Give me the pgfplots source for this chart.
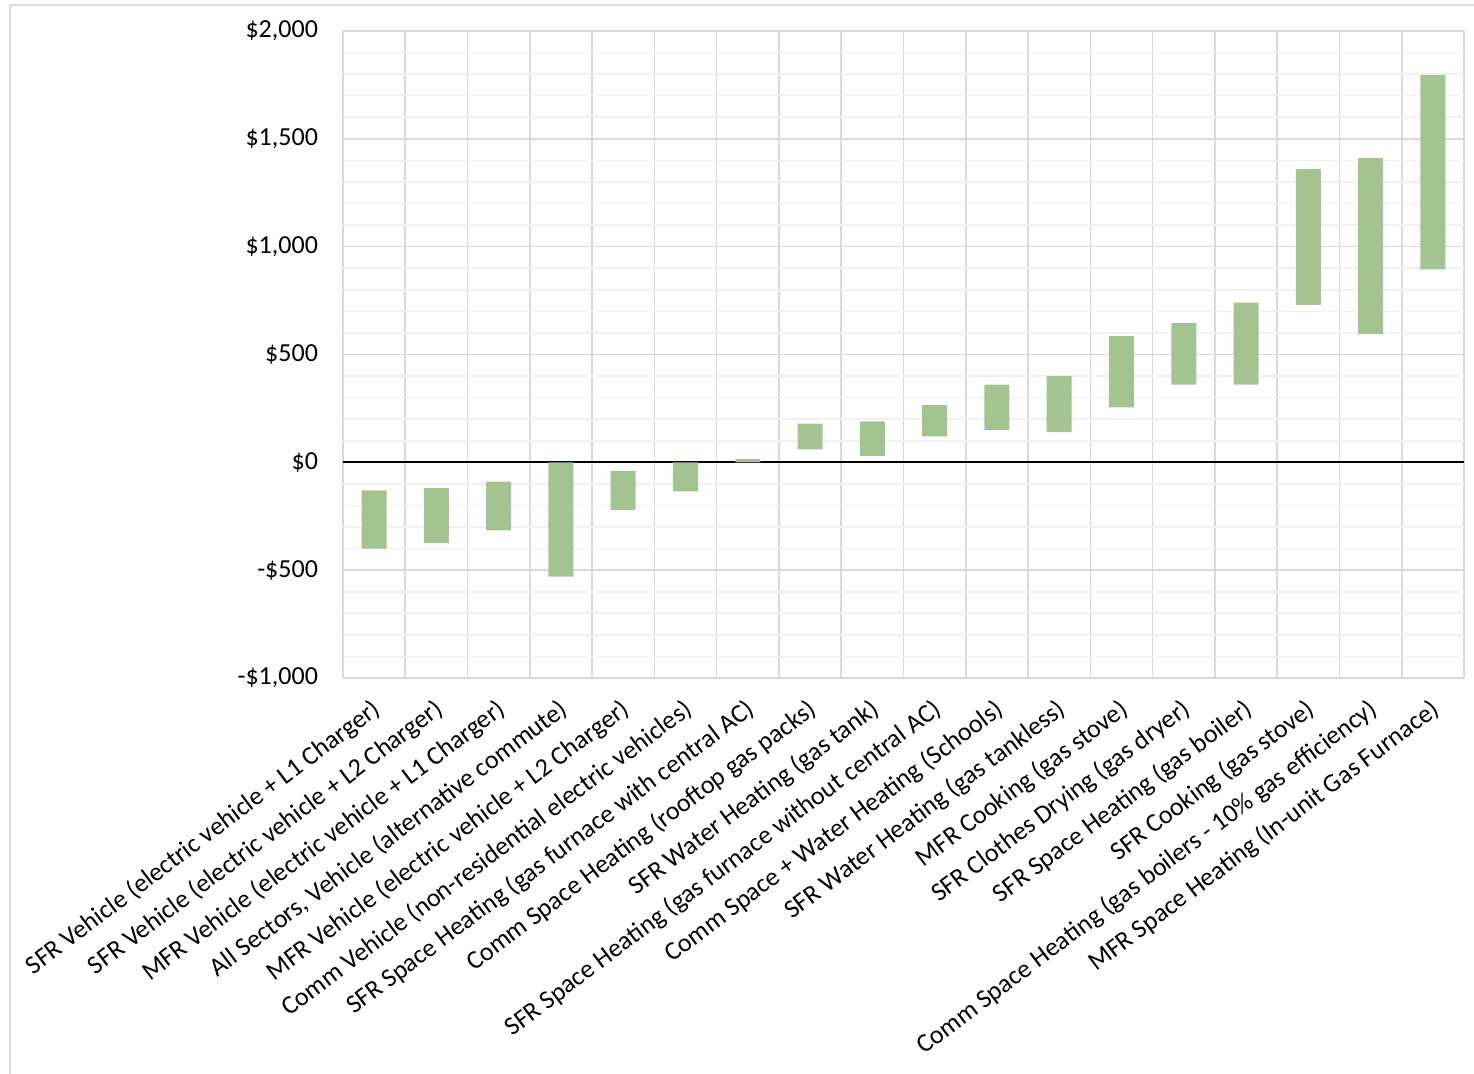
\documentclass[border=0pt]{standalone}
\usepackage{pgfplots}
\pgfplotsset{compat=1.18}
\usepackage{fontspec}
\setmainfont{Carlito}
\definecolor{bargreen}{HTML}{A3C490}
\definecolor{gridmajor}{HTML}{D9D9D9}
\definecolor{gridminor}{HTML}{F0F0F0}
\begin{document}
\fontsize{13pt}{15.6pt}\selectfont
\begin{tikzpicture}
\useasboundingbox (0,0) rectangle (737pt,537pt);
\draw[gridmajor, line width=0.8pt] (5pt,-5pt) -- (5pt,534.5pt) -- (740pt,534.5pt);
\begin{axis}[
  at={(171.5pt,198pt)}, anchor=south west,
  scale only axis, width=560.5pt, height=323.5pt,
  ybar stacked, stack negative=on previous, bar width=12.5pt,
  xmin=0.5, xmax=18.5, ymin=-1000, ymax=2000,
  axis line style={draw=none},
  xtick={1,...,18},
  minor xtick={0.5,1.5,...,18.5},
  ytick={-1000,-500,0,500,1000,1500,2000},
  minor y tick num=4,
  major tick length=0pt, minor tick length=0pt,
  xmajorgrids=false, xminorgrids=true, ymajorgrids=true, yminorgrids=true,
  minor x grid style={gridmajor, line width=0.8pt},
  major y grid style={gridmajor, line width=0.8pt},
  minor y grid style={gridminor, line width=0.8pt},
  extra y ticks={0}, extra y tick labels={},
  extra y tick style={major y grid style={black, line width=1pt}, ymajorgrids=true},
  yticklabels={{-\$1,000}, {-\$500}, {\$0}, {\$500}, {\$1,000}, {\$1,500}, {\$2,000}},
  yticklabel style={font=\fontsize{13pt}{15.6pt}\selectfont, anchor=east, xshift=-8pt},
  xticklabel style={font=\fontsize{13pt}{15.6pt}\selectfont, xshift=-1.5pt, yshift=-8pt, rotate=37, anchor=north east, inner sep=1pt},
  xticklabels={
    SFR Vehicle (electric vehicle + L1 Charger),
    SFR Vehicle (electric vehicle + L2 Charger),
    MFR Vehicle (electric vehicle + L1 Charger),
    {All Sectors, Vehicle (alternative commute)},
    MFR Vehicle (electric vehicle + L2 Charger),
    Comm Vehicle (non-residential electric vehicles),
    SFR Space Heating (gas furnace with central AC),
    Comm Space Heating (rooftop gas packs),
    SFR Water Heating (gas tank),
    SFR Space Heating (gas furnace without central AC),
    Comm Space + Water Heating (Schools),
    SFR Water Heating (gas tankless),
    MFR Cooking (gas stove),
    SFR Clothes Drying (gas dryer),
    SFR Space Heating (gas boiler),
    SFR Cooking (gas stove),
    Comm Space Heating (gas boilers - 10\% gas efficiency),
    MFR Space Heating (In-unit Gas Furnace)
  },
]
% invisible base (lower end of each range)
\addplot[draw=none, fill=none, forget plot] coordinates {
 (1,-400) (2,-375) (3,-315) (4,-530) (5,-220) (6,-135) (7,0) (8,60) (9,30)
 (10,120) (11,150) (12,140) (13,255) (14,360) (15,360) (16,730) (17,595) (18,895)
};
% visible range (upper minus lower)
\addplot[draw=none, fill=bargreen] coordinates {
 (1,270) (2,255) (3,225) (4,530) (5,180) (6,135) (7,15) (8,120) (9,160)
 (10,145) (11,210) (12,260) (13,330) (14,285) (15,380) (16,630) (17,815) (18,900)
};
\end{axis}
\end{tikzpicture}
\end{document}
